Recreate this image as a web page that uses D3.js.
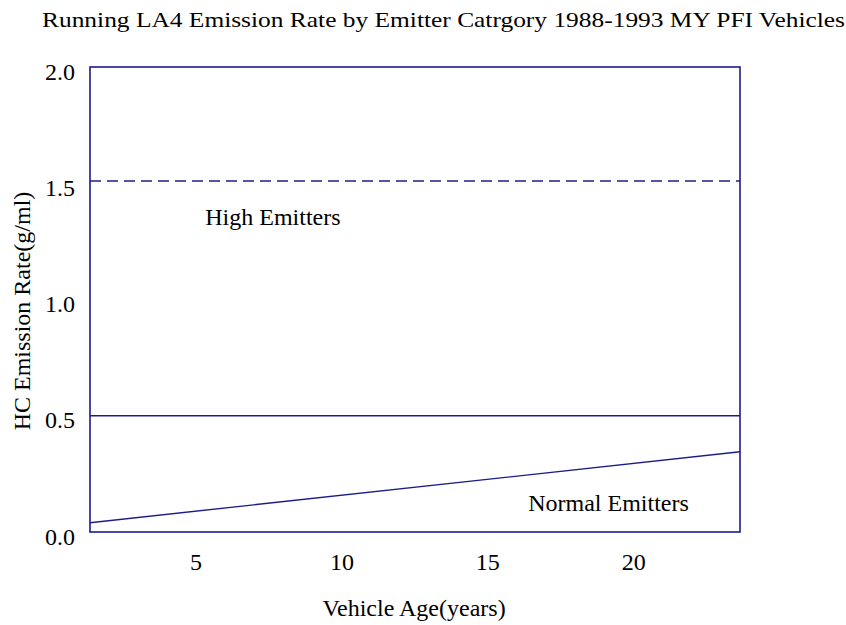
<!DOCTYPE html>
<html><head><meta charset="utf-8">
<script src="https://cdn.jsdelivr.net/npm/d3@7"></script>
<style>body{margin:0;background:#fff}svg{display:block}text{font-family:"Liberation Serif","Times New Roman",serif;fill:#000}</style>
</head><body>
<script>
const title = "Running LA4 Emission Rate by Emitter Catrgory 1988-1993 MY PFI Vehicles";
const xTicks = [5, 10, 15, 20];
const yTicks = [0.0, 0.5, 1.0, 1.5, 2.0];
const xDomain = [1.38, 23.66];
const yDomain = [0, 2];
const highAge = [1.38, 23.66];
const highRate = [1.51, 1.51];
const cutAge = [1.38, 23.66];
const cutRate = [0.5, 0.5];
const normalAge = [1.38, 23.66];
const normalRate = [0.04, 0.345];
const labels = [{t:"High Emitters", x:5.33, y:1.32}, {t:"Normal Emitters", x:16.4, y:0.09}];

const W = 846, H = 625;
const m = {l:90, r:106, t:67, b:93};
const svg = d3.select("body").append("svg").attr("width", W).attr("height", H);
const x = d3.scaleLinear().domain(xDomain).range([m.l, W - m.r]);
const y = d3.scaleLinear().domain(yDomain).range([H - m.b, m.t]);
const col = "#1c1c8c";
const FF = "Liberation Serif, Times New Roman, serif";

svg.append("text").attr("x", 42).attr("y", 27).attr("font-size", 21)
  .attr("textLength", 803).attr("lengthAdjust", "spacingAndGlyphs").text(title);

const line = d3.line().x(d => x(d[0])).y(d => y(d[1]));
const g = svg.append("g");
g.append("path").datum(d3.zip(cutAge, cutRate)).attr("d", line).attr("fill","none").attr("stroke", col).attr("stroke-width", 1.3);
g.append("path").datum(d3.zip(highAge, highRate)).attr("d", line).attr("fill","none").attr("stroke", col).attr("stroke-width", 1.6).attr("stroke-dasharray", "11,6");
g.append("path").datum(d3.zip(normalAge, normalRate)).attr("d", line).attr("fill","none").attr("stroke", col).attr("stroke-width", 1.4);

svg.append("rect").attr("x", x(xDomain[0])).attr("y", y(yDomain[1]))
  .attr("width", x(xDomain[1]) - x(xDomain[0])).attr("height", y(yDomain[0]) - y(yDomain[1]))
  .attr("fill","none").attr("stroke", col).attr("stroke-width", 1.6);

const xa = svg.append("g").attr("transform", `translate(0,${H - m.b})`)
  .call(d3.axisBottom(x).tickValues(xTicks).tickSize(0).tickPadding(21).tickFormat(d3.format("d")));
xa.select(".domain").remove();
xa.selectAll("text").attr("font-size", 24).attr("font-family", FF);

const ya = svg.append("g").attr("transform", `translate(${m.l},0)`)
  .call(d3.axisLeft(y).tickValues(yTicks).tickSize(0).tickPadding(15).tickFormat(d3.format(".1f")));
ya.select(".domain").remove();
ya.selectAll("text").attr("font-size", 24).attr("font-family", FF).attr("dy", "0.5em");

svg.append("text").attr("x", 414).attr("y", 616).attr("text-anchor","middle").attr("font-size", 24).text("Vehicle Age(years)");
svg.append("text").attr("transform", "translate(30,311) rotate(-90)").attr("text-anchor","middle").attr("font-size", 24).text("HC Emission Rate(g/ml)");

svg.selectAll(".lbl").data(labels).enter().append("text").attr("class","lbl")
  .attr("x", d => x(d.x)).attr("y", d => y(d.y)).attr("font-size", 24).text(d => d.t);
</script>
</body></html>
